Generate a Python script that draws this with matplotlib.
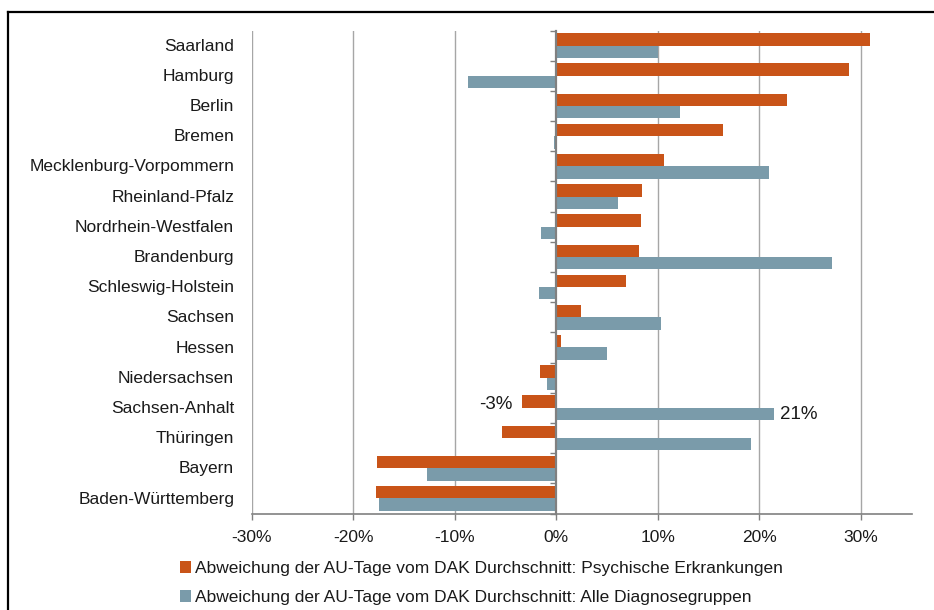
import matplotlib
matplotlib.use("Agg")
import matplotlib.pyplot as plt
from matplotlib.patches import Patch
from matplotlib.lines import Line2D
from matplotlib.transforms import blended_transform_factory

plt.rcParams['font.family'] = ['Liberation Sans', 'DejaVu Sans']

# Federal states, top to bottom
states = [
    "Saarland", "Hamburg", "Berlin", "Bremen", "Mecklenburg-Vorpommern",
    "Rheinland-Pfalz", "Nordrhein-Westfalen", "Brandenburg", "Schleswig-Holstein",
    "Sachsen", "Hessen", "Niedersachsen", "Sachsen-Anhalt", "Thüringen",
    "Bayern", "Baden-Württemberg",
]
# Deviation of sick-leave days from the DAK average (fractions)
psychisch = [0.309, 0.288, 0.227, 0.164, 0.106, 0.084, 0.083, 0.081, 0.069,
             0.024, 0.005, -0.016, -0.034, -0.054, -0.177, -0.178]
alle = [0.100, -0.087, 0.122, -0.002, 0.210, 0.061, -0.015, 0.272, -0.017,
        0.103, 0.050, -0.009, 0.214, 0.192, -0.128, -0.175]
series_names = [
    "Abweichung der AU-Tage vom DAK Durchschnitt: Psychische Erkrankungen",
    "Abweichung der AU-Tage vom DAK Durchschnitt: Alle Diagnosegruppen",
]
xticks = [-0.3, -0.2, -0.1, 0.0, 0.1, 0.2, 0.3]
xtick_labels = ["-30%", "-20%", "-10%", "0%", "10%", "20%", "30%"]
labelled_state = "Sachsen-Anhalt"

ORANGE = "#C95418"
BLUE = "#7A9BAA"
GRID = "#A6A6A6"
AXIS = "#808080"
TEXT = "#1a1a1a"
FS = 12.5

W, H = 934, 610
fig = plt.figure(figsize=(W / 100, H / 100), dpi=100)
ax = fig.add_axes([252 / W, 1 - 513.5 / H, (911.5 - 252) / W, (513.5 - 30.5) / H])

pos = list(range(len(states)))
bh = 0.41
ax.barh([p - bh / 2 for p in pos], psychisch, height=bh, color=ORANGE, zorder=3)
ax.barh([p + bh / 2 for p in pos], alle, height=bh, color=BLUE, zorder=3)

ax.set_xlim(-0.30, 0.35)
ax.set_ylim(len(states) - 0.5, -0.5)

# vertical gridlines
for t in xticks:
    if t != 0:
        ax.axvline(t, color=GRID, lw=1.0, zorder=1)

# zero line acts as category axis
for s in ["top", "right"]:
    ax.spines[s].set_visible(False)
ax.spines["left"].set_position(("data", 0))
ax.spines["left"].set_color(AXIS)
ax.spines["left"].set_linewidth(1.6)
ax.spines["left"].set_zorder(4)
ax.spines["bottom"].set_color(AXIS)
ax.spines["bottom"].set_linewidth(1.2)

ax.set_yticks([p + 0.5 for p in range(-1, len(states))])
ax.set_yticklabels([])
ax.tick_params(axis="y", direction="out", length=4, color=AXIS, width=1)

ax.set_xticks(xticks)
ax.set_xticklabels(xtick_labels, fontsize=FS, color=TEXT)
ax.tick_params(axis="x", direction="out", length=4, color=AXIS, width=1, pad=8)

# category labels at the left of the plot area
tr = blended_transform_factory(ax.transAxes, ax.transData)
for p, name in zip(pos, states):
    ax.text(-0.027, p + 0.02, name, transform=tr, ha="right", va="center",
            fontsize=FS, color=TEXT)

# value labels
i = states.index(labelled_state)
v1, v2 = psychisch[i], alle[i]
ax.annotate(f"{round(v1 * 100):.0f}%", xy=(v1, i - bh / 2 + 0.1), xytext=(-7, 0),
            textcoords="offset points", ha="right", va="center",
            fontsize=13.5, color=TEXT)
ax.annotate(f"{round(v2 * 100):.0f}%", xy=(v2, i + bh / 2), xytext=(5, 0),
            textcoords="offset points", ha="left", va="center",
            fontsize=13.5, color=TEXT)

# legend
handles = [Patch(facecolor=ORANGE, edgecolor="none"),
           Patch(facecolor=BLUE, edgecolor="none")]
fig.legend(handles, series_names, loc="upper left",
           bbox_to_anchor=(168 / W, 1 - 549 / H), frameon=False,
           fontsize=FS, handlelength=0.65, handleheight=0.65,
           handletextpad=0.2, labelspacing=0.82, borderpad=0.2,
           labelcolor=TEXT)

# outer frame
fx = 7.5 / W
fy = 1 - 11.5 / H
fig.add_artist(Line2D([fx, fx], [0, fy], transform=fig.transFigure,
                      color="black", lw=1.6))
fig.add_artist(Line2D([fx, 1], [fy, fy], transform=fig.transFigure,
                      color="black", lw=1.6))

fig.savefig("out.png", dpi=100, facecolor="white")
